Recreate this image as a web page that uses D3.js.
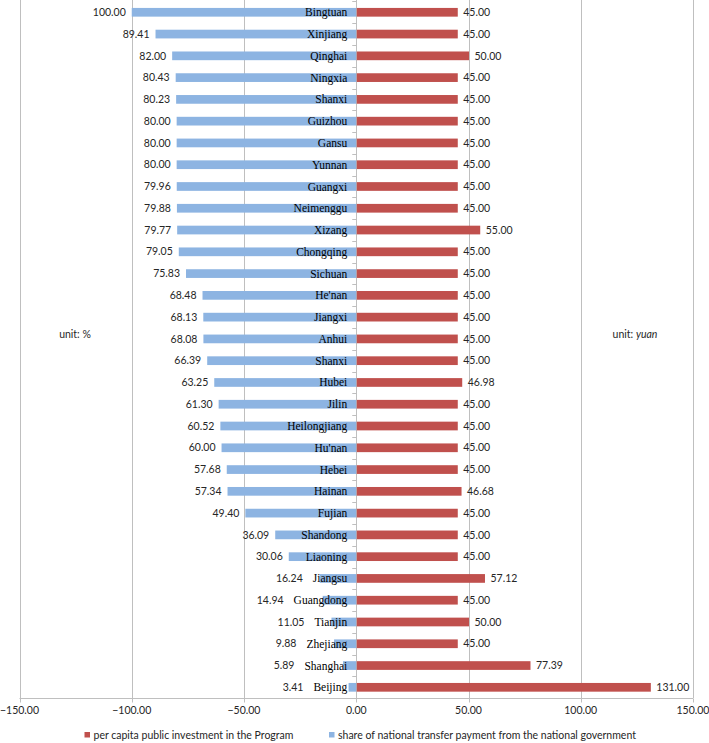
<!DOCTYPE html>
<html>
<head>
<meta charset="utf-8">
<script src="https://cdn.jsdelivr.net/npm/d3@7"></script>
<style>
  body { margin: 0; background: #fff; }
  svg { display: block; }
</style>
</head>
<body>
<div id="chart"></div>
<script>
"use strict";

// Provinces, top to bottom
const provinces = ["Bingtuan", "Xinjiang", "Qinghai", "Ningxia", "Shanxi", "Guizhou", "Gansu", "Yunnan",
    "Guangxi", "Neimenggu", "Xizang", "Chongqing", "Sichuan", "He'nan", "Jiangxi", "Anhui", "Shanxi",
    "Hubei", "Jilin", "Heilongjiang", "Hu'nan", "Hebei", "Hainan", "Fujian", "Shandong", "Liaoning",
    "Jiangsu", "Guangdong", "Tianjin", "Zhejiang", "Shanghai", "Beijing"];

// share of national transfer payment (%), drawn to the left
const transferShare = [100.00, 89.41, 82.00, 80.43, 80.23, 80.00, 80.00, 80.00, 79.96, 79.88, 79.77,
    79.05, 75.83, 68.48, 68.13, 68.08, 66.39, 63.25, 61.30, 60.52, 60.00, 57.68, 57.34, 49.40, 36.09,
    30.06, 16.24, 14.94, 11.05, 9.88, 5.89, 3.41];

// per capita public investment (yuan), drawn to the right
const investment = [45.00, 45.00, 50.00, 45.00, 45.00, 45.00, 45.00, 45.00, 45.00, 45.00, 55.00,
    45.00, 45.00, 45.00, 45.00, 45.00, 45.00, 46.98, 45.00, 45.00, 45.00, 45.00, 46.68, 45.00, 45.00,
    45.00, 57.12, 45.00, 50.00, 45.00, 77.39, 131.00];

const xTicks = [-150, -100, -50, 0, 50, 100, 150];

const legendLabels = ["per capita public investment in the Program",
    "share of national transfer payment from the national government"];

const width = 709, height = 743;
const blue = "#8db4e2", red = "#c0504d", grid = "#bfbfbf", ink = "#262626";
const numFont = "Lato, 'Liberation Sans', sans-serif";
const catFont = "'Liberation Serif', 'DejaVu Serif', serif";

let svg = d3.select("#chart").append("svg")
    .attr("width", width)
    .attr("height", height);

let x = d3.scaleLinear()
    .domain([-150, 150])
    .range([19.5, 693]);

let y = d3.scaleBand()
    .domain(d3.range(provinces.length))
    .range([1.4, 698.2])
    .paddingInner(0.6)
    .paddingOuter(0.3);

let plotTop = y.range()[0], plotBottom = y.range()[1];
let fmt = d3.format(".2f");

// Gridlines
svg.append("g").selectAll("line")
    .data(xTicks)
    .join("line")
    .attr("x1", d => Math.round(x(d)) + 0.5)
    .attr("x2", d => Math.round(x(d)) + 0.5)
    .attr("y1", 0)
    .attr("y2", plotBottom)
    .style("stroke", grid)
    .style("stroke-width", 1);

// Bottom axis
let xAxis = svg.append("g")
    .attr("transform", "translate(0," + (Math.round(plotBottom) + 0.5) + ")");
xAxis.append("line")
    .attr("x1", x(-150)).attr("x2", x(150))
    .style("stroke", grid);
xAxis.selectAll("line.tick")
    .data(xTicks)
    .join("line")
    .attr("class", "tick")
    .attr("x1", d => Math.round(x(d)) + 0.5)
    .attr("x2", d => Math.round(x(d)) + 0.5)
    .attr("y1", 0).attr("y2", 4)
    .style("stroke", grid);
xAxis.selectAll("text")
    .data(xTicks)
    .join("text")
    .attr("x", d => x(d))
    .attr("y", 15)
    .attr("text-anchor", "middle")
    .style("font-family", numFont)
    .style("font-size", "10.5px")
    .style("fill", ink)
    .text(d => fmt(d));

// Category ticks on the zero axis
let step = y.step();
svg.append("g").selectAll("line")
    .data(d3.range(provinces.length + 1))
    .join("line")
    .attr("x1", x(0) - 4)
    .attr("x2", x(0))
    .attr("y1", i => Math.round(plotTop + i * step) + 0.5)
    .attr("y2", i => Math.round(plotTop + i * step) + 0.5)
    .style("stroke", grid);

// Blue bars (left)
svg.append("g").selectAll("rect")
    .data(transferShare)
    .join("rect")
    .attr("x", d => x(-d))
    .attr("y", (d, i) => y(i))
    .attr("width", d => x(0) - x(-d))
    .attr("height", y.bandwidth())
    .style("fill", blue);

// Red bars (right)
svg.append("g").selectAll("rect")
    .data(investment)
    .join("rect")
    .attr("x", x(0) + 0.5)
    .attr("y", (d, i) => y(i))
    .attr("width", d => x(d) - x(0))
    .attr("height", y.bandwidth())
    .style("fill", red);

// Category labels, right-aligned next to the zero axis
let catLabels = svg.append("g").selectAll("text")
    .data(provinces)
    .join("text")
    .attr("x", x(0) - 9)
    .attr("y", (d, i) => y(i) + y.bandwidth() / 2)
    .attr("dy", "0.35em")
    .attr("text-anchor", "end")
    .style("font-family", catFont)
    .style("font-size", "11.5px")
    .style("fill", "#000")
    .text(d => d);

let catLeft = [];
catLabels.each(function () { catLeft.push(this.getBBox().x); });

// Blue value labels, pushed clear of the category label when the bar is short
svg.append("g").selectAll("text")
    .data(transferShare)
    .join("text")
    .attr("x", (d, i) => Math.min(x(-d) - 6, catLeft[i] - 10))
    .attr("y", (d, i) => y(i) + y.bandwidth() / 2)
    .attr("dy", "0.35em")
    .attr("text-anchor", "end")
    .style("font-family", numFont)
    .style("font-size", "10.5px")
    .style("fill", ink)
    .text(d => fmt(d));

// Red value labels
svg.append("g").selectAll("text")
    .data(investment)
    .join("text")
    .attr("x", d => x(d) + 6)
    .attr("y", (d, i) => y(i) + y.bandwidth() / 2)
    .attr("dy", "0.35em")
    .style("font-family", numFont)
    .style("font-size", "10.5px")
    .style("fill", ink)
    .text(d => fmt(d));

// Unit notes
let unitY = (plotTop + plotBottom) / 2 - 15;
svg.append("text")
    .attr("x", 75)
    .attr("y", unitY)
    .attr("dy", "0.35em")
    .attr("text-anchor", "middle")
    .style("font-family", numFont)
    .style("font-size", "10.5px")
    .style("fill", ink)
    .text("unit: %");

let unitYuan = svg.append("text")
    .attr("x", 635)
    .attr("y", unitY)
    .attr("dy", "0.35em")
    .attr("text-anchor", "middle")
    .style("font-family", numFont)
    .style("font-size", "10.5px")
    .style("fill", ink);
unitYuan.append("tspan").text("unit: ");
unitYuan.append("tspan").style("font-style", "italic").text("yuan");

// Legend
let legend = svg.append("g")
    .attr("transform", "translate(0,735)");
let legendX = [84.5, 329];
let legendColors = [red, blue];
let items = legend.selectAll("g")
    .data(legendLabels)
    .join("g")
    .attr("transform", (d, i) => "translate(" + legendX[i] + ",0)");
items.append("rect")
    .attr("x", 0).attr("y", -3)
    .attr("width", 5.5).attr("height", 5.5)
    .style("fill", (d, i) => legendColors[i]);
items.append("text")
    .attr("x", 9)
    .attr("dy", "0.35em")
    .style("font-family", numFont)
    .style("font-size", "10.5px")
    .style("fill", ink)
    .text(d => d);
</script>
</body>
</html>
